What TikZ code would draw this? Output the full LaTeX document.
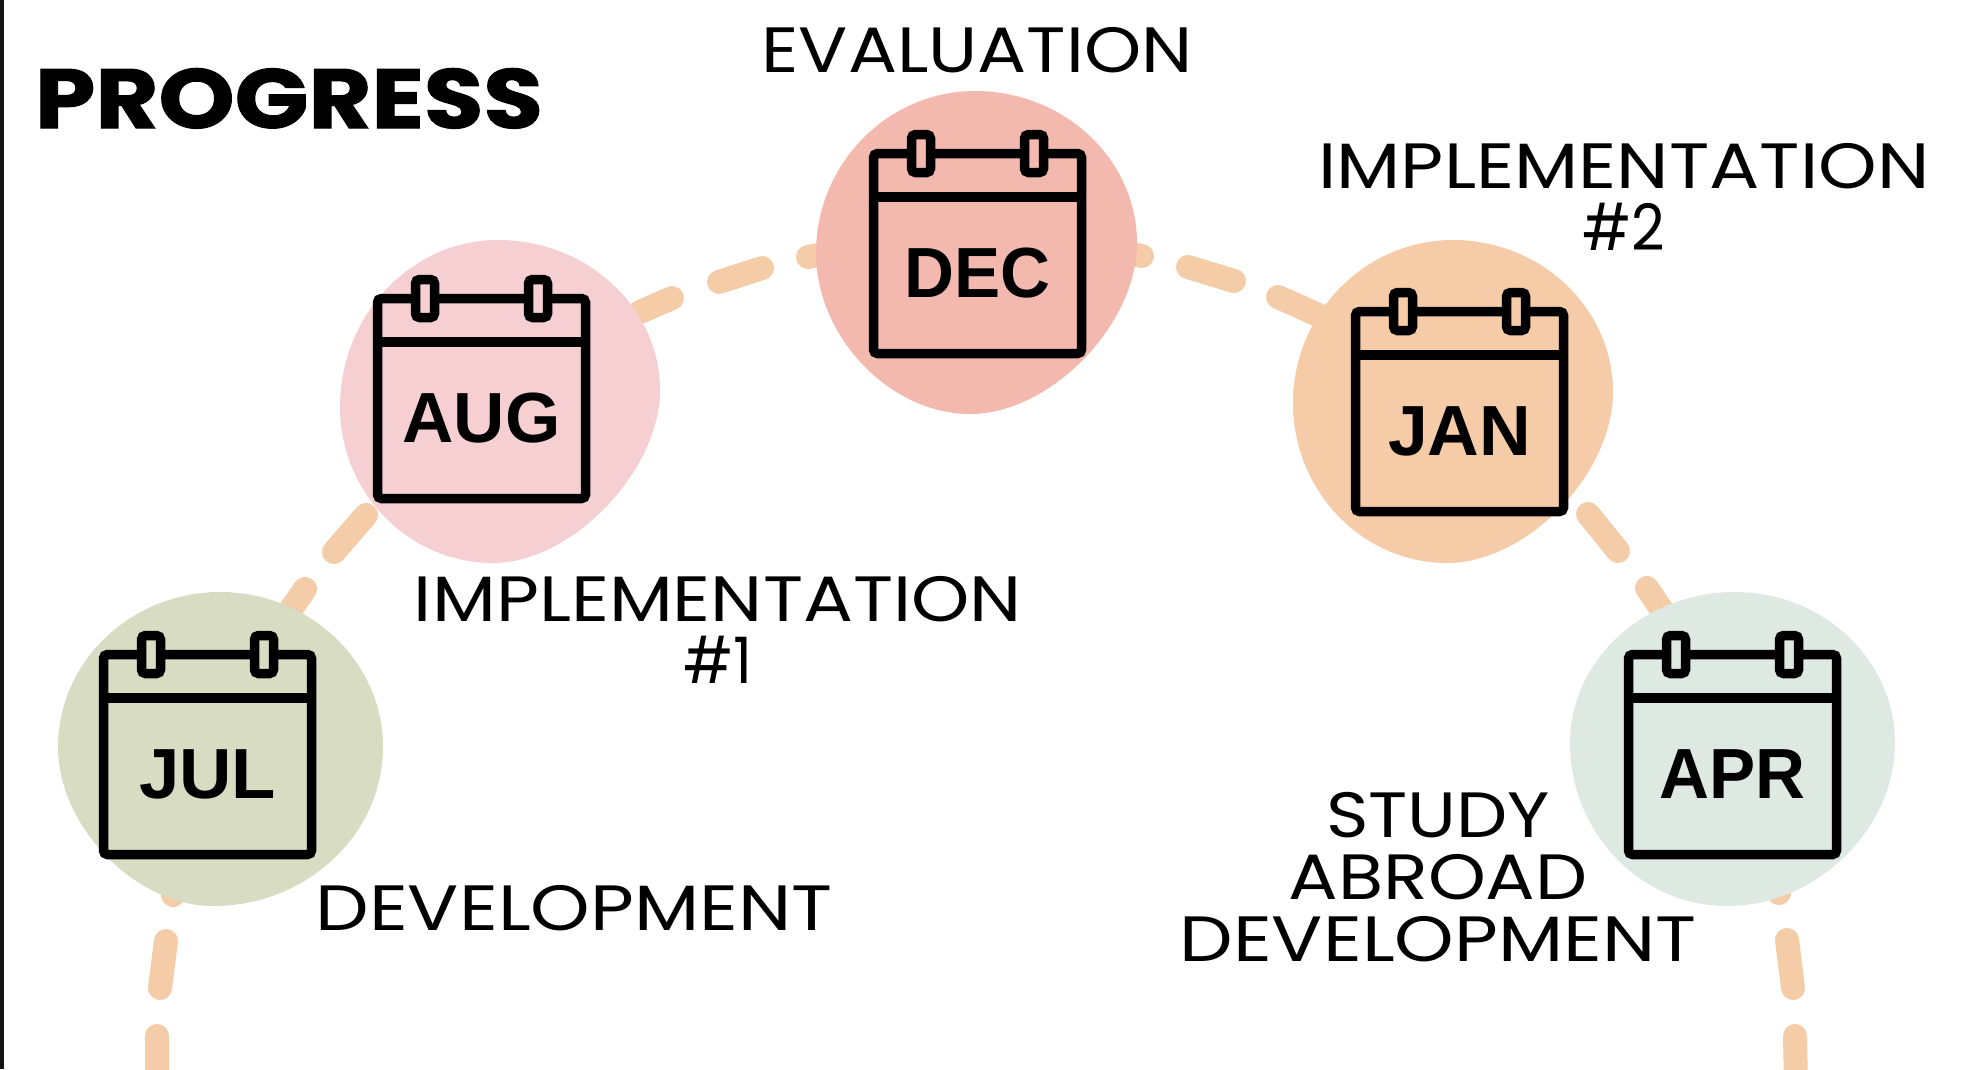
\documentclass[tikz,border=0pt]{standalone}
\usepackage{fontspec}
\usepackage{graphicx}
\usetikzlibrary{calc}
\newfontfamily\labelfont{Poppins}
\newfontfamily\titlefont[BoldFeatures={FakeBold=1.2}]{Poppins}
\newfontfamily\monthfont{Liberation Sans}
\definecolor{dashc}{HTML}{F5CCA8}
\definecolor{julc}{HTML}{D8DCC3}
\definecolor{augc}{HTML}{F5CFD1}
\definecolor{decc}{HTML}{F3B9AF}
\definecolor{janc}{HTML}{F5CBA8}
\definecolor{aprc}{HTML}{DFE9E3}
\tikzset{
  conn/.style={draw=dashc,line width=24pt,line cap=round},
  calline/.style={draw=black,line width=9.5pt,rounded corners=4pt},
  lab/.style={anchor=base,inner sep=0pt,font=\labelfont\fontsize{64}{62}\selectfont,text=black},
  monthtext/.style={anchor=base,inner sep=0pt,font=\monthfont\bfseries\fontsize{71}{71}\selectfont,text=black},
}
% blob: name, colour, L, T, R, B extreme points, lower-right and lower-left curvature
\newcommand{\myblob}[8]{%
  \coordinate (#1L) at (#3); \coordinate (#1T) at (#4);
  \coordinate (#1R) at (#5); \coordinate (#1B) at (#6);
  \fill[#2] (#1L) .. controls ($(#1L)!.55!(#1L|-#1T)$) and ($(#1T)!.55!(#1L|-#1T)$) .. (#1T)
    .. controls ($(#1T)!.55!(#1R|-#1T)$) and ($(#1R)!.55!(#1R|-#1T)$) .. (#1R)
    .. controls ($(#1R)!#7!(#1R|-#1B)$) and ($(#1B)!#7!(#1R|-#1B)$) .. (#1B)
    .. controls ($(#1B)!#8!(#1L|-#1B)$) and ($(#1L)!#8!(#1L|-#1B)$) .. (#1L) -- cycle;
}
% calendar: name, colour, left, top, month, text width
\newcommand{\mycal}[6]{%
  \begin{scope}[shift={(#3,#4)}]
    \draw[calline] (4.5,4.5) rectangle (212.5,204.5);
    \draw[draw=black,line width=9.5pt] (4.5,48) -- (212.5,48);
    \draw[calline,fill=#2] (42.5,-14.5) rectangle (61.5,23.5);
    \draw[calline,fill=#2] (155.5,-14.5) rectangle (174.5,23.5);
    \node[monthtext] (#1) at (108.5,148.5) {\resizebox{#6pt}{\height}{#5}};
  \end{scope}%
}
\newcommand{\fitline}[3]{\hbox to #1pt{\hss\resizebox{#2pt}{\height}{#3}\hss}}
\begin{document}
\begin{tikzpicture}[x=1pt,y=-1pt]
\useasboundingbox (0,0) rectangle (1978,1069);
\fill[white] (0,0) rectangle (1978,1069);
\fill[black!92] (0,0) rectangle (3.5,1069);
% connector points
\coordinate (s0) at (157,1085); \coordinate (s1) at (157,1036);
\coordinate (s2) at (160,988);  \coordinate (s3) at (166,941);
\coordinate (s4) at (173,895);  \coordinate (s4b) at (182,850);
\coordinate (a1b) at (280,625); \coordinate (a1) at (305,589);
\coordinate (a2) at (334,552);  \coordinate (a3) at (366,515);
\coordinate (b1) at (672,298);  \coordinate (b1b) at (640,312);
\coordinate (b2) at (719,282);  \coordinate (b3) at (762,268);
\coordinate (b4) at (808,257);  \coordinate (b4b) at (835,252);
\coordinate (c1b) at (1120,252);\coordinate (c1) at (1142,256);
\coordinate (c2) at (1188,267); \coordinate (c3) at (1234,281);
\coordinate (c4) at (1278,297); \coordinate (c4b) at (1325,318);
\coordinate (d1) at (1588,514); \coordinate (d2) at (1618,551);
\coordinate (d3) at (1647,588); \coordinate (d3b) at (1675,630);
\coordinate (e1b) at (1770,850);\coordinate (e1) at (1779,893);
\coordinate (e2) at (1787,940); \coordinate (e3) at (1793,988);
\coordinate (e4) at (1795,1036);\coordinate (e5) at (1796,1085);
% connectors, behind the blobs
\draw[conn] (s0) -- (s1) (s2) -- (s3) (s4) -- (s4b);
\draw[conn] (a1b) -- (a1) (a2) -- (a3);
\draw[conn] (b1b) -- (b1) (b2) -- (b3) (b4) -- (b4b);
\draw[conn] (c1b) -- (c1) (c2) -- (c3) (c4) -- (c4b);
\draw[conn] (d1) -- (d2) (d3) -- (d3b);
\draw[conn] (e1b) -- (e1) (e2) -- (e3) (e4) -- (e5);
% blobs
\myblob{jul}{julc}{58,747}{220,592}{383,747}{213,906}{.55}{.5}
\myblob{aug}{augc}{340,407}{498,240}{660,390}{493,563}{.47}{.55}
\myblob{dec}{decc}{816,253}{975,91}{1137,243}{970,414}{.48}{.52}
\myblob{jan}{janc}{1293,403}{1453,240}{1613,392}{1447,563}{.48}{.55}
\myblob{apr}{aprc}{1570,743}{1735,592}{1895,743}{1727,906}{.53}{.55}
% calendars
\mycal{mjul}{julc}{99}{650}{JUL}{137}
\mycal{maug}{augc}{373}{294}{AUG}{158}
\mycal{mdec}{decc}{869}{149}{DEC}{146}
\mycal{mjan}{janc}{1351}{307}{JAN}{143}
\mycal{mapr}{aprc}{1624}{650}{APR}{146}
% labels
\node[anchor=base,inner sep=0pt,font=\titlefont\bfseries\fontsize{84}{84}\selectfont] (title) at (289,128) {\resizebox{508pt}{\height}{PROGRESS}};
\node[lab] (evaluation) at (977,72) {\resizebox{431pt}{\height}{EVALUATION}};
\node[lab] (impl2) at (1624,250) {\vbox{\baselineskip=62pt\fitline{611}{611}{IMPLEMENTATION}\hbox to 611pt{\hss\scalebox{.91}[1]{\#2}\hss}}};
\node[lab] (impl1) at (718,683) {\vbox{\baselineskip=62pt\fitline{608}{608}{IMPLEMENTATION}\hbox to 608pt{\hss\scalebox{.93}[1]{\#1}\hss}}};
\node[lab] (dev) at (574,930) {\resizebox{517pt}{\height}{DEVELOPMENT}};
\node[lab] (study) at (1438,961) {\vbox{\baselineskip=62pt\fitline{517}{224}{STUDY}\fitline{517}{299}{ABROAD}\fitline{517}{517}{DEVELOPMENT}}};
\end{tikzpicture}
\end{document}
